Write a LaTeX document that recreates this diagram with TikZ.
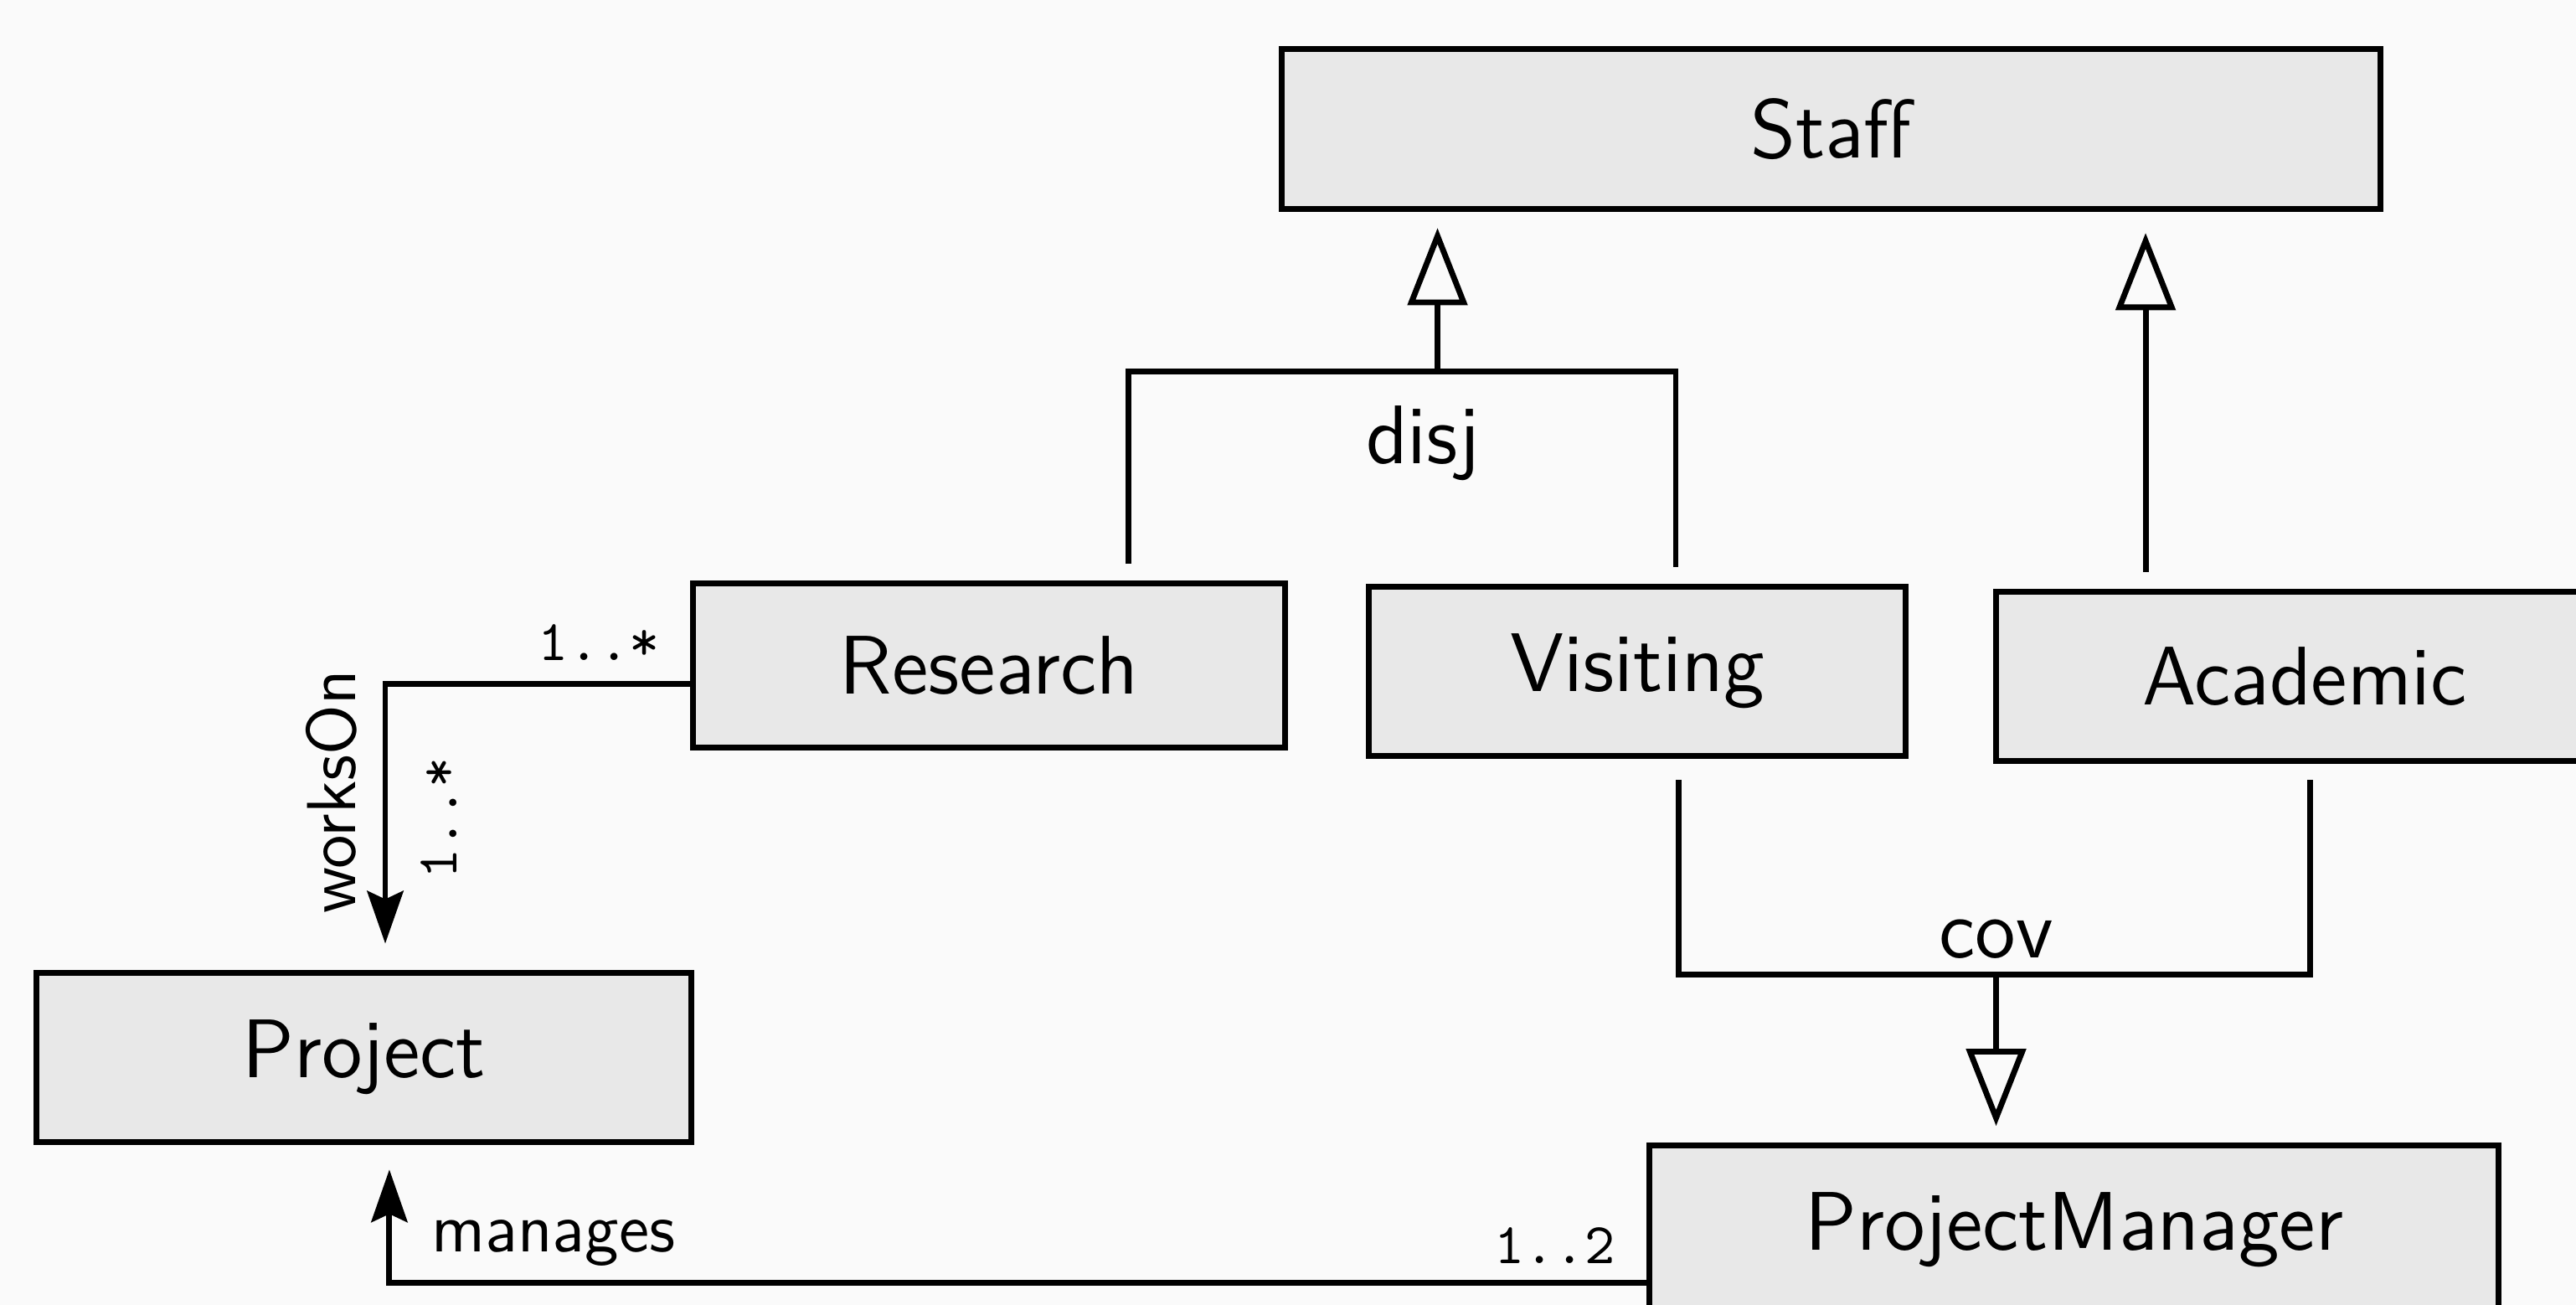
\documentclass[tikz,border=0pt]{standalone}
\usetikzlibrary{arrows.meta,positioning}
\tikzset{
  umlclass/.style={draw, line width=1pt, fill=black!9, inner sep=0pt,
    font=\sffamily\fontsize{14.4}{17}\selectfont},
  isaline/.style={line width=1pt},
  isa/.style={line width=1pt, -{Triangle[open, length=0.47cm, width=0.36cm]}},
  assoc/.style={line width=1pt, -{Stealth[length=0.32cm, width=0.22cm, inset=0.05cm]}},
  constr/.style={font=\sffamily\fontsize{14.4}{17}\selectfont, inner sep=2.5pt},
  rolename/.style={font=\sffamily\large, inner sep=0pt},
  mult/.style={font=\ttfamily, inner sep=0pt},
}
\begin{document}
\begin{tikzpicture}
\useasboundingbox (0,0) rectangle (15.68,-7.94);
\clip (0,0) rectangle (15.68,-7.94);
\fill[black!2] (0,0) rectangle (15.68,-7.94);
% classes
\node[umlclass, minimum width=6.69cm, minimum height=0.97cm] (staff) at (11.145,-0.785) {Staff};
\node[umlclass, minimum width=3.60cm, minimum height=1.00cm] (research) at (6.02,-4.05) {Research};
\node[umlclass, minimum width=3.27cm, minimum height=1.03cm] (visiting) at (9.965,-4.085) {Visiting};
\node[umlclass, minimum width=3.76cm, minimum height=1.03cm] (academic) at (14.03,-4.115) {Academic};
\node[umlclass, minimum width=3.99cm, minimum height=1.03cm] (project) at (2.215,-6.435) {Project};
\node[umlclass, minimum width=5.17cm, minimum height=1.03cm] (manager) at (12.625,-7.485) {ProjectManager};
% disjoint generalization
\coordinate (disjbar) at (8.75,-2.26);
\draw[isaline] ([xshift=0.85cm,yshift=0.1cm]research.north) |- (disjbar)
  -| ([xshift=0.235cm,yshift=0.1cm]visiting.north);
\draw[isa, shorten >=0.1cm] (disjbar) -- (disjbar |- staff.south);
\node[constr] (disjlbl) at (8.66,-2.70) {disj};
% academic is a staff
\coordinate (acup) at ([xshift=-0.97cm,yshift=0.1cm]academic.north);
\draw[isa, shorten >=0.13cm] (acup) -- (acup |- staff.south);
% covering generalization
\coordinate (covbar) at (12.15,-5.93);
\draw[isaline] ([xshift=0.255cm,yshift=-0.13cm]visiting.south) |- (covbar)
  -| ([xshift=0.03cm,yshift=-0.1cm]academic.south);
\draw[isa, shorten >=0.1cm] (covbar) -- (covbar |- manager.north);
\node[constr, above] (covlbl) at (covbar) {cov};
% worksOn
\draw[assoc] ([yshift=-0.11cm]research.west) -| ([xshift=0.13cm,yshift=0.16cm]project.north);
\node[mult, anchor=base east] (wmulta) at ([xshift=-0.18cm,yshift=0.03cm]research.west) {1..*};
\node[rolename, rotate=90] (wrole) at (2.02,-4.82) {worksOn};
\node[mult, rotate=90] (wmultb) at (2.67,-4.98) {1..*};
% manages
\draw[assoc] ([yshift=-0.32cm]manager.west) -| ([xshift=0.155cm,yshift=-0.15cm]project.south);
\node[rolename, anchor=base west] (mrole) at (2.62,-7.62) {manages};
\node[mult, anchor=base east] (mmult) at (9.84,-7.69) {1..2};
\end{tikzpicture}
\end{document}
